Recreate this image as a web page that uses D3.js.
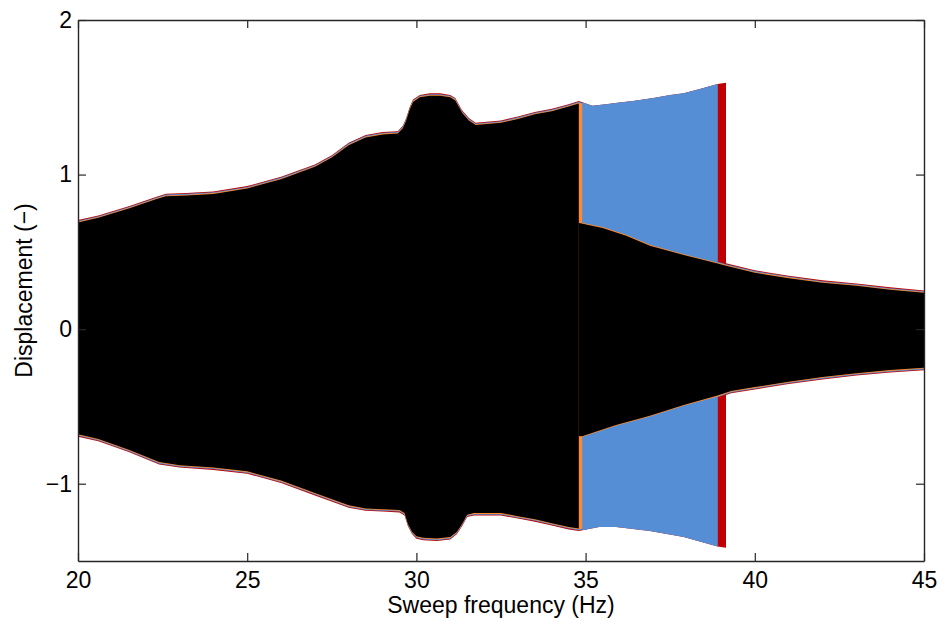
<!DOCTYPE html>
<html>
<head>
<meta charset="utf-8">
<script src="https://cdn.jsdelivr.net/npm/d3@7"></script>
<style>
  body { margin: 0; background: #fff; }
  svg text { font-family: "Liberation Sans", Arial, Helvetica, sans-serif; }
</style>
</head>
<body>
<svg class="chart"></svg>
<script>
// Envelope of the response, branch A = high-amplitude (resonant) branch
const freqUpA = [20, 20.6, 21.5, 22.3, 22.6, 23.2, 24, 25, 26, 27, 27.5, 28, 28.5, 29, 29.45, 29.6, 29.7, 29.8, 29.9, 30.1,
  30.4, 30.7, 31.0, 31.15, 31.25, 31.35, 31.55, 31.75, 32, 32.5, 33, 33.5, 34, 34.5, 34.8, 35.2, 35.6, 36, 36.4, 37,
  37.5, 37.9, 38.4, 38.9, 39.2];
const ampUpA = [0.69, 0.72, 0.78, 0.84, 0.86, 0.865, 0.875, 0.91, 0.97, 1.05, 1.11, 1.19, 1.24, 1.26, 1.265, 1.30, 1.35, 1.42, 1.47, 1.50,
  1.51, 1.51, 1.50, 1.48, 1.44, 1.40, 1.35, 1.32, 1.325, 1.335, 1.36, 1.39, 1.41, 1.44, 1.46, 1.43, 1.44, 1.45, 1.46, 1.48,
  1.50, 1.51, 1.54, 1.57, 1.58];
const freqLowA = [20, 20.6, 21.5, 22.4, 23, 24, 25, 26, 27, 28, 28.5, 29, 29.5, 29.65, 29.75, 29.87, 30.0, 30.2, 30.6, 31.0,
  31.2, 31.35, 31.5, 31.7, 32, 32.5, 33, 33.5, 34, 34.5, 34.8, 35.4, 35.9, 36.9, 37.9, 38.9, 39.2];
const ampLowA = [-0.68, -0.71, -0.78, -0.86, -0.88, -0.895, -0.92, -0.98, -1.06, -1.14, -1.16, -1.165, -1.17, -1.19, -1.26, -1.31, -1.34, -1.35, -1.355, -1.345,
  -1.31, -1.26, -1.2, -1.19, -1.19, -1.19, -1.21, -1.23, -1.255, -1.28, -1.29, -1.265, -1.265, -1.29, -1.33, -1.39, -1.40];

// branch B = low-amplitude branch after the jump down
const freqUpB = [34.75, 35.5, 36.2, 36.9, 37.9, 38.9, 39.15, 40, 41, 42, 43, 44, 45];
const ampUpB = [0.69, 0.655, 0.605, 0.54, 0.48, 0.425, 0.41, 0.365, 0.33, 0.30, 0.28, 0.255, 0.235];
const freqLowB = [34.75, 34.9, 35.9, 36.9, 37.9, 38.9, 39.3, 40, 41, 42, 43, 44, 45];
const ampLowB = [-0.69, -0.693, -0.62, -0.56, -0.49, -0.43, -0.40, -0.375, -0.34, -0.31, -0.285, -0.265, -0.25];

// the four sweeps and the frequency where each one drops off the resonant branch
const sweeps = ["red", "blue", "orange", "black"];
const jumpFreq = [39.15, 38.9, 34.9, 34.8];

const xTicks = [20, 25, 30, 35, 40, 45];
const yTicks = [-1, 0, 1, 2];

const width = 942;
const height = 621;
const marginTop = 20;
const marginRight = 18;
const marginBottom = 60;
const marginLeft = 78;

const colors = { red: "#c00000", blue: "#558ed5", orange: "#ff8a2e", black: "#000000" };
const offsets = { red: 2.4, blue: 1.6, orange: 0.8, black: 0 };

const x = d3.scaleLinear().domain([20, 45]).range([marginLeft, width - marginRight]);
const y = d3.scaleLinear().domain([-1.5, 2]).range([height - marginBottom, marginTop]);

const svg = d3.select("svg.chart")
  .attr("width", width)
  .attr("height", height)
  .attr("viewBox", `0 0 ${width} ${height}`);

const defs = svg.append("defs");
defs.append("clipPath").attr("id", "plot")
  .append("rect")
  .attr("x", marginLeft).attr("y", marginTop)
  .attr("width", width - marginLeft - marginRight)
  .attr("height", height - marginTop - marginBottom);

function branch(fu, au, fl, al) {
  const up = fu.map((f, i) => ({ f, a: au[i], side: 1 }));
  const low = fl.map((f, i) => ({ f, a: al[i], side: -1 })).reverse();
  return up.concat(low);
}
const branchA = branch(freqUpA, ampUpA, freqLowA, ampLowA);
const branchB = branch(freqUpB, ampUpB, freqLowB, ampLowB);

const poly = off => d3.line()
  .x(d => x(d.f))
  .y(d => y(d.a) - d.side * off);

const layers = [];
sweeps.forEach((s, i) => {
  layers.push({ color: colors[s], off: offsets[s], pts: branchA, from: 20, to: jumpFreq[i] });
  layers.push({ color: colors[s], off: offsets[s], pts: branchB, from: jumpFreq[i], to: 45 });
  // on its own resonant stretch the blue sweep reaches the same amplitude as the red one
  if (s === "blue") {
    layers.push({ color: colors[s], off: offsets.red, pts: branchA, from: jumpFreq[2], to: jumpFreq[i] });
  }
});

const plot = svg.append("g").attr("clip-path", "url(#plot)");

layers.forEach((l, i) => {
  defs.append("clipPath").attr("id", `clip-${i}`)
    .append("rect")
    .attr("x", x(l.from)).attr("y", 0)
    .attr("width", x(l.to) - x(l.from)).attr("height", height);
  plot.append("path")
    .attr("clip-path", `url(#clip-${i})`)
    .attr("fill", l.color)
    .attr("d", poly(l.off)(l.pts) + "Z");
});

// axes, MATLAB style box with inward ticks
function styleAxis(g) {
  g.select(".domain").attr("stroke", "#262626").attr("stroke-width", 1.4);
  g.selectAll(".tick line").attr("stroke", "#262626").attr("stroke-width", 1.2);
  g.selectAll(".tick text").attr("fill", "#000").style("font-size", "23px");
}

svg.append("g")
  .attr("transform", `translate(0,${height - marginBottom})`)
  .call(d3.axisBottom(x).tickValues(xTicks).tickSize(-8).tickSizeOuter(0).tickPadding(11).tickFormat(d3.format("d")))
  .call(styleAxis);

svg.append("g")
  .attr("transform", `translate(0,${marginTop})`)
  .call(d3.axisTop(x).tickValues(xTicks).tickSize(-8).tickSizeOuter(0).tickFormat(""))
  .call(styleAxis);

svg.append("g")
  .attr("transform", `translate(${marginLeft},0)`)
  .call(d3.axisLeft(y).tickValues(yTicks).tickSize(-8).tickSizeOuter(0).tickPadding(6).tickFormat(d3.format("d")))
  .call(styleAxis);

svg.append("g")
  .attr("transform", `translate(${width - marginRight},0)`)
  .call(d3.axisRight(y).tickValues(yTicks).tickSize(-8).tickSizeOuter(0).tickFormat(""))
  .call(styleAxis);

svg.append("text")
  .attr("x", (marginLeft + width - marginRight) / 2)
  .attr("y", 613)
  .attr("text-anchor", "middle")
  .style("font-size", "23px")
  .text("Sweep frequency (Hz)");

svg.append("text")
  .attr("transform", `translate(32,${(marginTop + height - marginBottom) / 2}) rotate(-90)`)
  .attr("text-anchor", "middle")
  .style("font-size", "23px")
  .text("Displacement (−)");
</script>
</body>
</html>
